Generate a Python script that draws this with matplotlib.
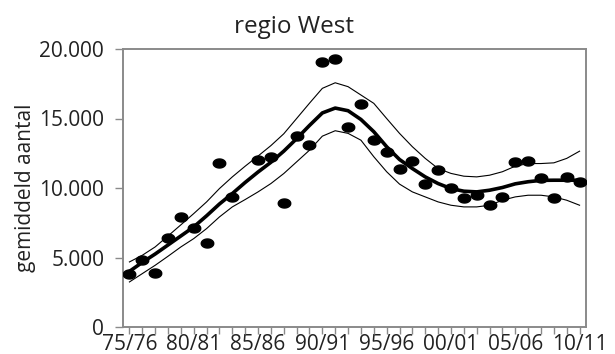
import numpy as np
import matplotlib
matplotlib.use("Agg")
import matplotlib.pyplot as plt

# Seasons 1975/76 .. 2010/11
seasons = np.arange(36)
tick_positions = [0, 5, 10, 15, 20, 25, 30, 35]
tick_labels = ["75/76", "80/81", "85/86", "90/91", "95/96", "00/01", "05/06", "10/11"]

# Yearly averages (one season without a count)
observed = [3840, 4800, 3910, 6430, 7910, 7150, 6040, 11800, 9350, np.nan,
            11990, 12230, 8920, 13740, 13120, 19060, 19310, 14390, 16020, 13430,
            12590, 11400, 11920, 10320, 11270, 10000, 9310, 9530, 8760, 9350,
            11850, 11940, 10750, 9310, 10790, 10430]

# Smoothed trend with its confidence band
trend = [4000, 4650, 5250, 5900, 6550, 7200, 8000, 8850, 9600, 10400,
         11150, 11850, 12650, 13550, 14500, 15400, 15750, 15560, 14930, 14050,
         12970, 12050, 11400, 10800, 10320, 9960, 9770, 9720, 9840, 10035,
         10300, 10450, 10550, 10560, 10560, 10560]
upper = [4680, 5160, 5760, 6550, 7350, 8160, 9000, 9960, 10800, 11570,
         12300, 13050, 13900, 15000, 16100, 17170, 17570, 17290, 16690, 16090,
         15000, 13930, 12970, 12130, 11400, 11050, 10850, 10800, 10920, 11170,
         11570, 11760, 11760, 11810, 12130, 12650]
lower = [3240, 3840, 4440, 5090, 5760, 6360, 7080, 7920, 8640, 9170,
         9720, 10320, 11040, 11880, 12720, 13730, 14120, 13930, 13440, 12250,
         11170, 10280, 9720, 9360, 9000, 8760, 8640, 8640, 8760, 9120,
         9360, 9480, 9480, 9360, 9120, 8760]

y_ticks = [0, 5000, 10000, 15000, 20000]
y_tick_labels = ["0", "5.000", "10.000", "15.000", "20.000"]

plt.rcParams["font.family"] = ["Open Sans", "DejaVu Sans"]
text_color = "#222222"
axis_color = "#8a8a8a"

fig = plt.figure(figsize=(6.15, 3.54), dpi=100)
ax = fig.add_axes([123 / 615, 1 - 327 / 354, (586 - 123) / 615, (327 - 49) / 354])

# Wide ellipse marker for the yearly dots
t = np.linspace(0, 2 * np.pi, 60)
ellipse = np.column_stack([np.cos(t), 0.72 * np.sin(t)])

ax.plot(seasons, upper, color="black", lw=0.8, zorder=2)
ax.plot(seasons, lower, color="black", lw=0.8, zorder=2)
ax.plot(seasons, trend, color="black", lw=2.6, zorder=3)
ax.plot(seasons, observed, linestyle="none", marker=ellipse, markersize=9,
        color="black", zorder=4)

ax.set_xlim(-0.5, 35.5)
ax.set_ylim(0, 20000)

ax.set_xticks(tick_positions)
ax.set_xticklabels(tick_labels)
ax.set_xticks(seasons, minor=True)
ax.set_yticks(y_ticks)
ax.set_yticklabels(y_tick_labels)

for side in ["left", "bottom", "top", "right"]:
    ax.spines[side].set_color(axis_color)
    ax.spines[side].set_linewidth(1.4)

ax.tick_params(axis="both", which="both", direction="out", color=axis_color,
               width=1.0, labelcolor=text_color, labelsize=15)
ax.tick_params(axis="x", which="both", length=5, pad=0)
ax.tick_params(axis="y", which="major", length=5.5, pad=8)

ax.set_ylabel("gemiddeld aantal", fontsize=15, color=text_color)
ax.yaxis.set_label_coords((36 - 123) / 463, 0.5)

fig.text(293.5 / 615, 1 - 33 / 354, "regio West", ha="center", va="baseline",
         fontsize=17.5, color=text_color)

fig.savefig("out.png", dpi=100)
